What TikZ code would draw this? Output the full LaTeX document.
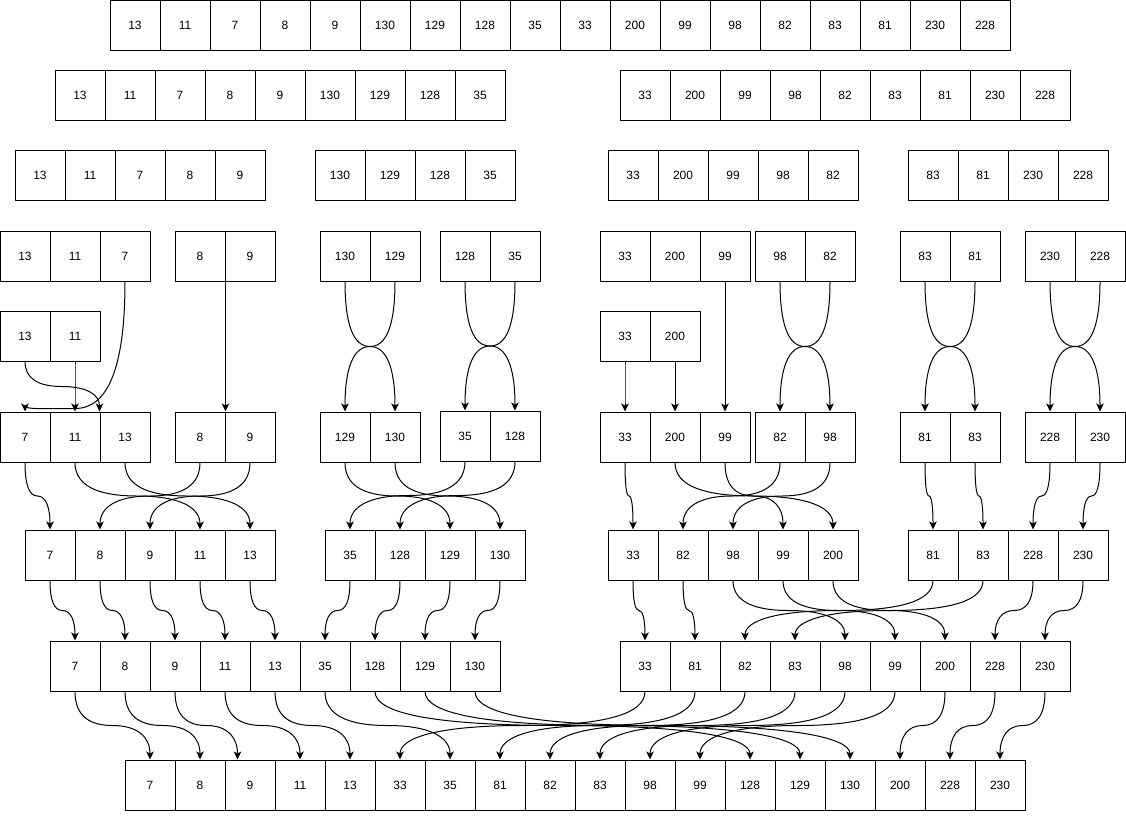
\documentclass[tikz,border=0pt]{standalone}
\usepackage{fontspec}
\setmainfont{Liberation Sans}
\usepackage{tikz}
\usetikzlibrary{arrows.meta,calc}

\newcommand{\cellrow}[4]{%
    \foreach \v [count=\i from 0] in {#4}
        \node[cell] (#1-\v) at ({#2+50*\i+25},{#3+25}) {\v};%
}

\begin{document}
\begin{tikzpicture}[x=1pt, y=-1pt,
                    cell/.style={draw, line width=1pt,
                    minimum width=50pt, minimum height=50pt,
                    inner sep=0pt, font=\fontsize{12}{14}\selectfont},
                    link/.style={line width=1pt,
                    -{Stealth[length=8pt,width=7.5pt,inset=2pt]},
                    to path={let \p1=(\tikztostart), \p2=(\tikztotarget),
                    \p3=($(\p1)!.5!(\p2)$) in
                    .. controls ($(\p1)!2/3!(\x1,\y3)$) and ($(\p3)!2/3!(\x1,\y3)$) .. (\p3)
                    .. controls ($(\p3)!2/3!(\x2,\y3)$) and ($(\p2)!2/3!(\x2,\y3)$) .. (\p2)
                    \tikztonodes}}]
    \useasboundingbox (0,0) rectangle (1126,820);

    \cellrow{r1}{110}{0}{13,11,7,8,9,130,129,128,35,33,200,99,98,82,83,81,230,228}
    \cellrow{r2}{55}{70}{13,11,7,8,9,130,129,128,35}
    \cellrow{r2}{620}{70}{33,200,99,98,82,83,81,230,228}
    \cellrow{r3}{15}{150}{13,11,7,8,9}
    \cellrow{r3}{315}{150}{130,129,128,35}
    \cellrow{r3}{608}{150}{33,200,99,98,82}
    \cellrow{r3}{908}{150}{83,81,230,228}
    \cellrow{r4}{0}{231}{13,11,7}
    \cellrow{r4}{175}{231}{8,9}
    \cellrow{r4}{320}{231}{130,129}
    \cellrow{r4}{440}{231}{128,35}
    \cellrow{r4}{600}{231}{33,200,99}
    \cellrow{r4}{755}{231}{98,82}
    \cellrow{r4}{900}{231}{83,81}
    \cellrow{r4}{1025}{231}{230,228}
    \cellrow{r5}{0}{311}{13,11}
    \cellrow{r5}{600}{311}{33,200}
    \cellrow{r6}{0}{412}{7,11,13}
    \cellrow{r6}{175}{412}{8,9}
    \cellrow{r6}{320}{412}{129,130}
    \cellrow{r6}{440}{411}{35,128}
    \cellrow{r6}{600}{412}{33,200,99}
    \cellrow{r6}{755}{412}{82,98}
    \cellrow{r6}{900}{412}{81,83}
    \cellrow{r6}{1025}{412}{228,230}
    \cellrow{r7}{25}{530}{7,8,9,11,13}
    \cellrow{r7}{325}{530}{35,128,129,130}
    \cellrow{r7}{608}{530}{33,82,98,99,200}
    \cellrow{r7}{908}{530}{81,83,228,230}
    \cellrow{r8}{50}{641}{7,8,9,11,13,35,128,129,130}
    \cellrow{r8}{620}{641}{33,81,82,83,98,99,200,228,230}
    \cellrow{r9}{125}{760}{7,8,9,11,13,33,35,81,82,83,98,99,128,129,130,200,228,230}

    \foreach \a in {130,129,128,35,99,98,82,83,81,230,228}
        \draw[link] (r4-\a.south) to (r6-\a.north);
    \foreach \a in {11,33,200}
        \draw[link] (r5-\a.south) to (r6-\a.north);
    \draw[link] (r5-13.south) to (r6-13.north west);
    \draw[link] (r4-8.south east) to (r6-8.north east);
    \draw[link] (r4-7.south) .. controls ([yshift=-85.3pt]r4-7.south)
        and ([xshift=83.3pt,yshift=3pt]r6-7.north) .. ([xshift=50pt,yshift=3pt]r6-7.north)
        .. controls ([xshift=16.7pt,yshift=3pt]r6-7.north) and ([yshift=2pt]r6-7.north) .. (r6-7.north);

    \foreach \a in {7,11,13,8,9,129,130,35,128,33,200,99,82,98,81,83,228,230}
        \draw[link] (r6-\a.south) to (r7-\a.north);

    \foreach \a/\b in {7/7,8/8,9/9,11/11,13/13,35/35,128/128,129/129,130/130,
                       33/33,82/81,98/98,99/99,200/200,81/82,83/83,228/228,230/230}
        \draw[link] (r7-\a.south) to (r8-\b.north);

    \foreach \a in {7,8,11,13,35,128,129,130,33,81,82,83,98,99,200,228,230}
        \draw[link] (r8-\a.south) to (r9-\a.north);
    \draw[link] (r8-9.south) to ([xshift=-12.5pt]r9-9.north);
\end{tikzpicture}
\end{document}
